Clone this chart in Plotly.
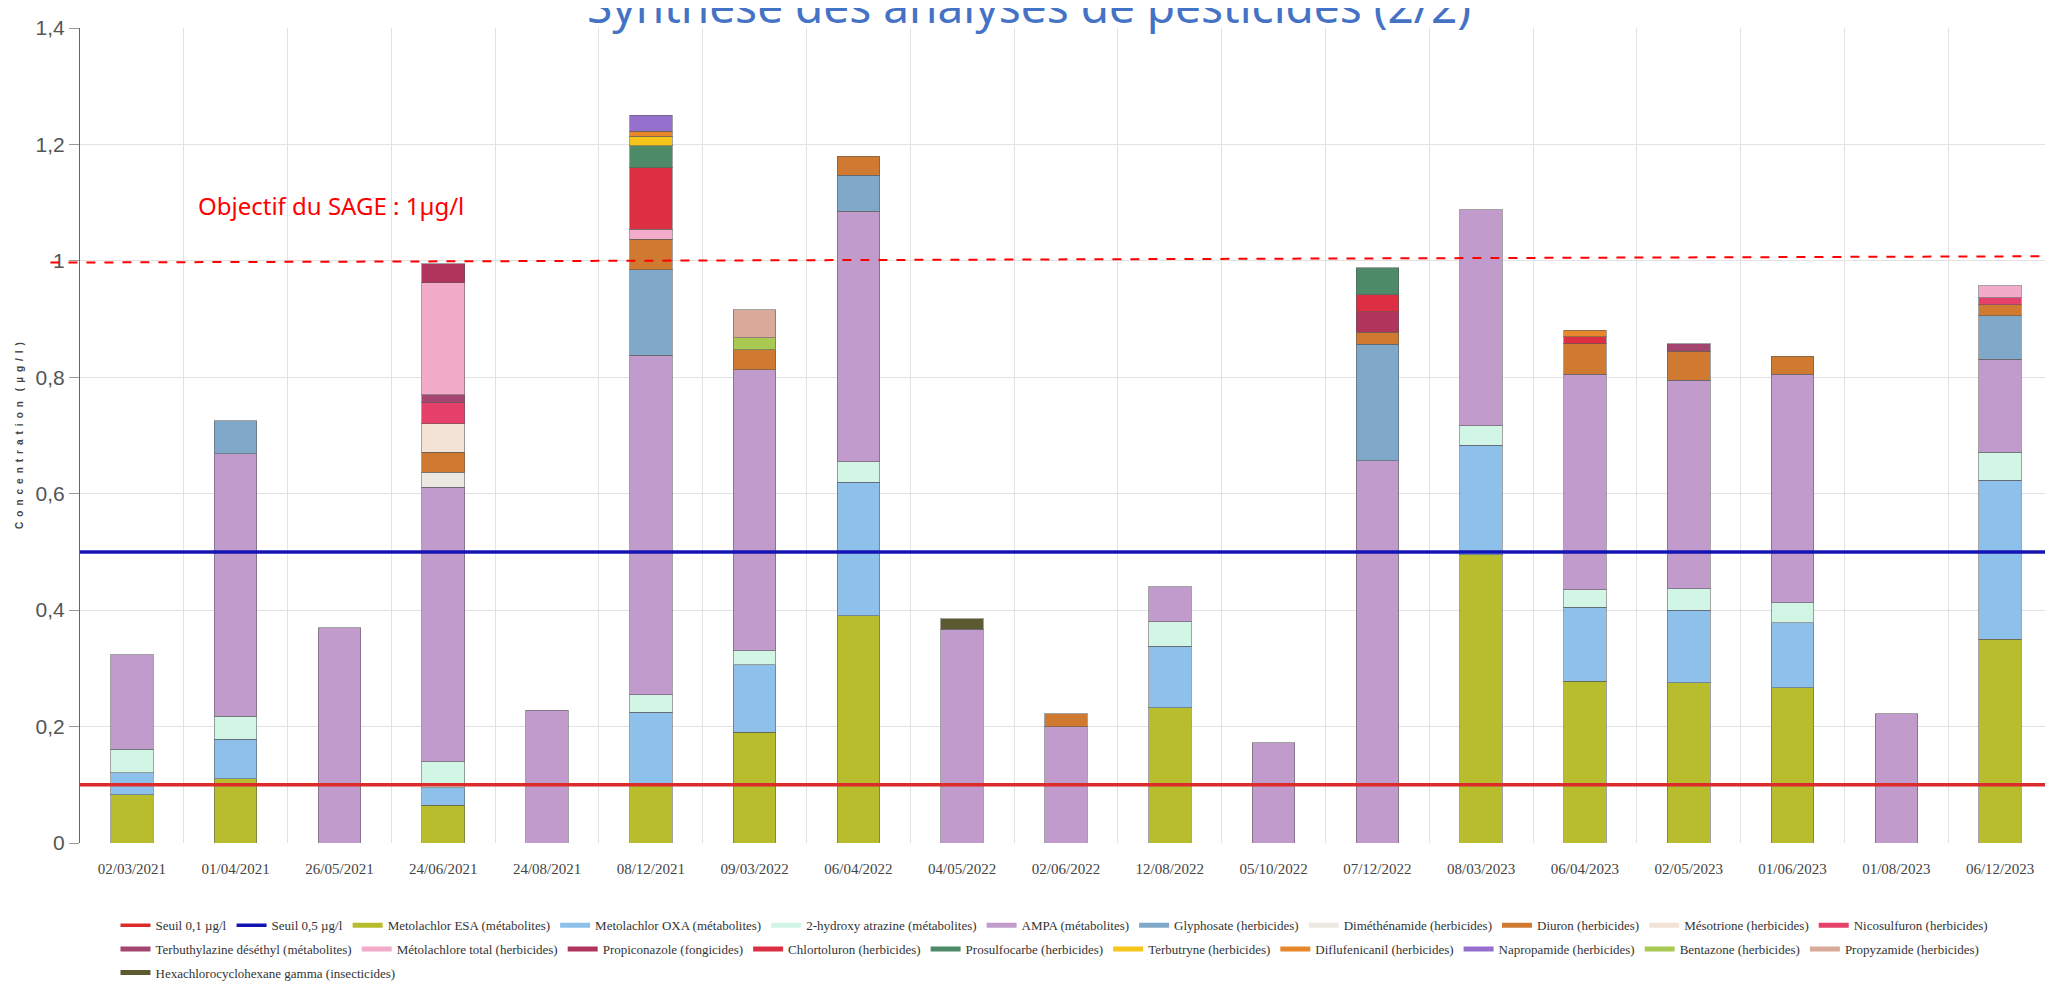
import plotly.graph_objects as go

dates = ["02/03/2021", "01/04/2021", "26/05/2021", "24/06/2021", "24/08/2021", "08/12/2021",
         "09/03/2022", "06/04/2022", "04/05/2022", "02/06/2022", "12/08/2022", "05/10/2022",
         "07/12/2022", "08/03/2023", "06/04/2023", "02/05/2023", "01/06/2023", "01/08/2023",
         "06/12/2023"]

seuil_01 = 0.1
seuil_05 = 0.5
objectif_sage = 1.0

metolachlor_esa = [0.083, 0.11, 0, 0.065, 0, 0.10, 0.19, 0.39, 0, 0, 0.232, 0, 0, 0.495, 0.278, 0.275, 0.267, 0, 0.35]
metolachlor_oxa = [0.038, 0.068, 0, 0.03, 0, 0.125, 0.116, 0.23, 0, 0, 0.106, 0, 0, 0.188, 0.127, 0.125, 0.111, 0, 0.273]
hydroxy_atrazine = [0.04, 0.04, 0, 0.045, 0, 0.03, 0.024, 0.035, 0, 0, 0.042, 0, 0, 0.034, 0.03, 0.037, 0.035, 0, 0.048]
ampa = [0.162, 0.451, 0.37, 0.471, 0.228, 0.583, 0.483, 0.43, 0.367, 0.2, 0.06, 0.172, 0.657, 0.371, 0.37, 0.358, 0.392, 0.222, 0.16]
glyphosate = [0, 0.056, 0, 0, 0, 0.147, 0, 0.062, 0, 0, 0, 0, 0.20, 0, 0, 0, 0, 0, 0.075]
dimethenamide = [0, 0, 0, 0.026, 0, 0, 0, 0, 0, 0, 0, 0, 0, 0, 0, 0, 0, 0, 0]
diuron = [0, 0, 0, 0.034, 0, 0.052, 0.034, 0.033, 0, 0.022, 0, 0, 0.02, 0, 0.053, 0.05, 0.031, 0, 0.019]
mesotrione = [0, 0, 0, 0.049, 0, 0, 0, 0, 0, 0, 0, 0, 0, 0, 0, 0, 0, 0, 0]
nicosulfuron = [0, 0, 0, 0.036, 0, 0, 0, 0, 0, 0, 0, 0, 0, 0, 0, 0, 0, 0, 0.012]
terbuthylazine = [0, 0, 0, 0.014, 0, 0, 0, 0, 0, 0, 0, 0, 0, 0, 0, 0.013, 0, 0, 0]
metolachlore_total = [0, 0, 0, 0.192, 0, 0.017, 0, 0, 0, 0, 0, 0, 0, 0, 0, 0, 0, 0, 0.02]
propiconazole = [0, 0, 0, 0.033, 0, 0, 0, 0, 0, 0, 0, 0, 0.036, 0, 0, 0, 0, 0, 0]
chlortoluron = [0, 0, 0, 0, 0, 0.106, 0, 0, 0, 0, 0, 0, 0.029, 0, 0.012, 0, 0, 0, 0]
prosulfocarbe = [0, 0, 0, 0, 0, 0.038, 0, 0, 0, 0, 0, 0, 0.046, 0, 0, 0, 0, 0, 0]
terbutryne = [0, 0, 0, 0, 0, 0.016, 0, 0, 0, 0, 0, 0, 0, 0, 0, 0, 0, 0, 0]
diflufenicanil = [0, 0, 0, 0, 0, 0.009, 0, 0, 0, 0, 0, 0, 0, 0, 0.011, 0, 0, 0, 0]
napropamide = [0, 0, 0, 0, 0, 0.027, 0, 0, 0, 0, 0, 0, 0, 0, 0, 0, 0, 0, 0]
bentazone = [0, 0, 0, 0, 0, 0, 0.021, 0, 0, 0, 0, 0, 0, 0, 0, 0, 0, 0, 0]
propyzamide = [0, 0, 0, 0, 0, 0, 0.048, 0, 0, 0, 0, 0, 0, 0, 0, 0, 0, 0, 0]
hch_gamma = [0, 0, 0, 0, 0, 0, 0, 0, 0.018, 0, 0, 0, 0, 0, 0, 0, 0, 0, 0]

series = [
    ("Metolachlor ESA (métabolites)", metolachlor_esa, "#b7bd2c", "legend"),
    ("Metolachlor OXA (métabolites)", metolachlor_oxa, "#8dc0ea", "legend"),
    ("2-hydroxy atrazine (métabolites)", hydroxy_atrazine, "#d2f6e6", "legend"),
    ("AMPA (métabolites)", ampa, "#c09bcb", "legend"),
    ("Glyphosate (herbicides)", glyphosate, "#80a9c9", "legend"),
    ("Diméthénamide (herbicides)", dimethenamide, "#ebe8e2", "legend"),
    ("Diuron (herbicides)", diuron, "#cf7a30", "legend"),
    ("Mésotrione (herbicides)", mesotrione, "#f3e3d6", "legend"),
    ("Nicosulfuron (herbicides)", nicosulfuron, "#e6416a", "legend"),
    ("Terbuthylazine déséthyl (métabolites)", terbuthylazine, "#a4466f", "legend2"),
    ("Métolachlore total (herbicides)", metolachlore_total, "#f2abc9", "legend2"),
    ("Propiconazole (fongicides)", propiconazole, "#b0345c", "legend2"),
    ("Chlortoluron (herbicides)", chlortoluron, "#dc3042", "legend2"),
    ("Prosulfocarbe (herbicides)", prosulfocarbe, "#4c8a68", "legend2"),
    ("Terbutryne (herbicides)", terbutryne, "#f6c51c", "legend2"),
    ("Diflufenicanil (herbicides)", diflufenicanil, "#e8862c", "legend2"),
    ("Napropamide (herbicides)", napropamide, "#9470cc", "legend2"),
    ("Bentazone (herbicides)", bentazone, "#a9c953", "legend2"),
    ("Propyzamide (herbicides)", propyzamide, "#d9a999", "legend2"),
    ("Hexachlorocyclohexane gamma (insecticides)", hch_gamma, "#5b5a30", "legend3"),
]

xpos = list(range(len(dates)))
fig = go.Figure()

rank = 10
for name, vals, color, lg in series:
    fig.add_trace(go.Bar(
        x=xpos, y=[v if v else None for v in vals], name=name, showlegend=False,
        legendgroup=name, marker=dict(color=color, line=dict(color="rgba(90,90,90,0.55)", width=1)),
    ))
    fig.add_trace(go.Scatter(x=[None], y=[None], mode="lines", name=name, legendgroup=name,
                             line=dict(color=color, width=5), legend=lg, legendrank=rank))
    rank += 10

# threshold series (lines across the full plot width), drawn over the bars
x_span = [-0.5, len(dates) - 0.5]
fig.add_trace(go.Scatter(x=x_span, y=[seuil_01, seuil_01], mode="lines", name="Seuil 0,1 µg/l",
                         line=dict(color="#dc2b2b", width=3.5), legend="legend", legendrank=1,
                         hoverinfo="skip"))
fig.add_trace(go.Scatter(x=x_span, y=[seuil_05, seuil_05], mode="lines", name="Seuil 0,5 µg/l",
                         line=dict(color="#1414b4", width=3.5), legend="legend", legendrank=2,
                         hoverinfo="skip"))

fig.add_shape(type="line", xref="paper", yref="y", x0=-0.015, x1=1.005,
              y0=objectif_sage - 0.003, y1=objectif_sage + 0.008,
              line=dict(color="#ff0000", width=2, dash="dash"), layer="above")

fig.add_annotation(x=0.62, y=1.095, xref="x", yref="y", xanchor="left", yanchor="middle",
                   text="Objectif du SAGE : 1µg/l", showarrow=False,
                   font=dict(family="Noto Sans", size=24, color="#ff0000"))

fig.add_annotation(x=0.481, y=1.028, xref="paper", yref="paper", xanchor="center", yanchor="middle",
                   text="Synthèse des analyses de pesticides (2/2)", showarrow=False,
                   font=dict(family="Noto Sans", size=46, color="#4472c4"))

legend_common = dict(orientation="h", xanchor="left", x=0.018, yanchor="middle",
                     bgcolor="rgba(0,0,0,0)", traceorder="normal",
                     font=dict(family="Liberation Serif", size=13, color="#333333"))

ytitle = "\u2002".join(list("Concentration")) + "\u2002\u2002" + "\u2002".join(list("(µg/l)"))

fig.update_layout(
    width=2053, height=989,
    margin=dict(l=72, r=9, t=20, b=149),
    paper_bgcolor="white", plot_bgcolor="white",
    barmode="stack", bargap=0.59,
    separators=", ",
    legend=dict(**legend_common, y=-0.101),
    legend2=dict(**legend_common, y=-0.13),
    legend3=dict(**legend_common, y=-0.159),
    xaxis=dict(range=[-0.5, len(dates) - 0.5], tickmode="array", tickvals=xpos, ticktext=dates,
               automargin=False,
               showgrid=False, zeroline=False, showline=False,
               ticks="outside", ticklen=12, tickcolor="rgba(0,0,0,0)",
               tickfont=dict(family="Liberation Serif", size=15, color="#444444"),
               minor=dict(tickmode="array", tickvals=[i - 0.5 for i in range(len(dates) + 1)],
                          showgrid=True, gridcolor="#e2e2e2", gridwidth=1, ticks="")),
    yaxis=dict(range=[0, 1.4], dtick=0.2, showgrid=True, gridcolor="#e2e2e2", zeroline=False,
               automargin=False,
               showline=True, linecolor="#666666", linewidth=1, ticks="outside", ticklen=10,
               tickcolor="#999999",
               tickfont=dict(family="Liberation Sans Narrow, Liberation Sans", size=21, color="#555555"),
               title=dict(text="<b>" + ytitle + "</b>", standoff=10,
                          font=dict(family="Liberation Sans", size=10, color="#444444"))),
)

fig.write_html("out.html")
